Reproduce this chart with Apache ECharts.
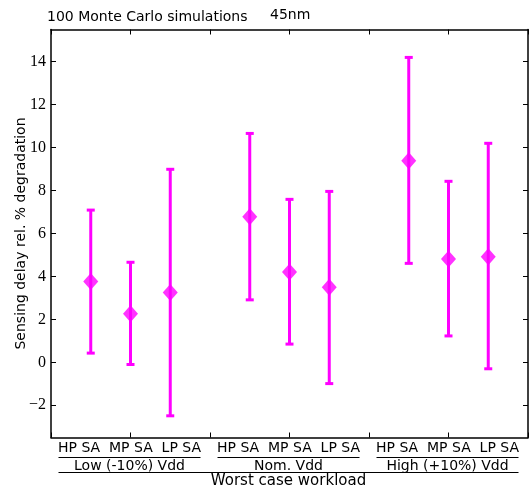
<!DOCTYPE html>
<html>
<head>
<meta charset="utf-8">
<script src="https://cdn.jsdelivr.net/npm/echarts@6/dist/echarts.min.js"></script>
<style>
html,body{margin:0;padding:0;background:#fff;}
#c{width:531px;height:487px;}
</style>
</head>
<body>
<div id="c"></div>
<script>
// ---- data ----
var saTypes = ['HP SA', 'MP SA', 'LP SA'];
var vddGroups = ['Low (-10%) Vdd', 'Nom. Vdd', 'High (+10%) Vdd'];
var xPositions = [1, 2, 3, 5, 6, 7, 9, 10, 11];
var meanValues = [3.76, 2.26, 3.25, 6.78, 4.21, 3.50, 9.39, 4.81, 4.92];
var upperValues = [7.09, 4.66, 8.99, 10.66, 7.59, 7.96, 14.20, 8.43, 10.20];
var lowerValues = [0.43, -0.10, -2.49, 2.91, 0.85, -0.99, 4.61, 1.23, -0.30];
var yTickValues = [-2, 0, 2, 4, 6, 8, 10, 12, 14];
var xTickValues = [0, 2, 4, 6, 8, 10, 12];
var titleLeft = '100 Monte Carlo simulations';
var titleRight = '45nm';
var yAxisName = 'Sensing delay rel. % degradation';
var xAxisName = 'Worst case workload';

var MAG = '#ff00ff';
var chart = echarts.init(document.getElementById('c'), null, {renderer: 'canvas'});

var errData = xPositions.map(function (x, i) { return [x, lowerValues[i], upperValues[i]]; });
var ptData = xPositions.map(function (x, i) { return [x, meanValues[i]]; });

function fmtY(v) { return v < 0 ? '\u2212' + Math.abs(v) : String(v); }

var axisLineStyle = {color: '#000', width: 1.5};
var tickStyle = {color: '#000', width: 1};

var option = {
  animation: false,
  backgroundColor: '#fff',
  grid: {left: 51, top: 29.5, width: 477, height: 408, containLabel: false, outerBoundsMode: 'none'},
  xAxis: [
    {type: 'value', position: 'bottom', min: 0, max: 12, interval: 2,
     axisLine: {show: true, onZero: false, lineStyle: axisLineStyle},
     axisTick: {show: true, inside: true, length: 5, lineStyle: tickStyle},
     axisLabel: {show: false}, splitLine: {show: false}},
    {type: 'value', position: 'top', min: 0, max: 12, interval: 2,
     axisLine: {show: true, onZero: false, lineStyle: axisLineStyle},
     axisTick: {show: true, inside: true, length: 5, lineStyle: tickStyle},
     axisLabel: {show: false}, splitLine: {show: false}}
  ],
  yAxis: [
    {type: 'value', position: 'left', min: -3.5, max: 15.5,
     axisLine: {show: true, onZero: false, lineStyle: axisLineStyle},
     axisTick: {show: true, inside: true, length: 5, lineStyle: tickStyle, customValues: yTickValues},
     axisLabel: {show: true, customValues: yTickValues, formatter: fmtY, margin: 5,
                 fontFamily: 'Liberation Serif', fontSize: 16, color: '#000'},
     splitLine: {show: false},
     name: yAxisName, nameLocation: 'middle', nameGap: 23, nameRotate: 90, nameMoveOverlap: false,
     nameTextStyle: {fontFamily: 'DejaVu Sans', fontSize: 14, color: '#000'}},
    {type: 'value', position: 'right', min: -3.5, max: 15.5,
     axisLine: {show: true, onZero: false, lineStyle: axisLineStyle},
     axisTick: {show: true, inside: true, length: 5, lineStyle: tickStyle, customValues: yTickValues},
     axisLabel: {show: false}, splitLine: {show: false}}
  ],
  series: [
    {type: 'custom', xAxisIndex: 0, yAxisIndex: 0, data: errData, z: 2,
     renderItem: function (params, api) {
       var x = api.value(0);
       var lo = api.coord([x, api.value(1)]);
       var hi = api.coord([x, api.value(2)]);
       var hw = 4;
       var st = {stroke: MAG, lineWidth: 3};
       return {type: 'group', children: [
         {type: 'line', shape: {x1: lo[0], y1: lo[1], x2: hi[0], y2: hi[1]}, style: st},
         {type: 'line', shape: {x1: lo[0] - hw, y1: lo[1], x2: lo[0] + hw, y2: lo[1]}, style: st},
         {type: 'line', shape: {x1: hi[0] - hw, y1: hi[1], x2: hi[0] + hw, y2: hi[1]}, style: st}
       ]};
     }},
    {type: 'scatter', xAxisIndex: 0, yAxisIndex: 0, data: ptData, z: 3,
     symbol: 'diamond', symbolSize: [15, 17], itemStyle: {color: MAG}}
  ]
};
chart.setOption(option);

// category annotations below the plot, positioned from the x axis scale
function px(x) { return chart.convertToPixel({xAxisIndex: 0}, x); }
var textStyleBase = {fontFamily: 'DejaVu Sans', fill: '#000'};
var g = [];
g.push({type: 'text', left: 47, top: 10, style: Object.assign({text: titleLeft, fontSize: 14}, textStyleBase)});
g.push({type: 'text', left: 270, top: 8, style: Object.assign({text: titleRight, fontSize: 14}, textStyleBase)});
var rowText = saTypes.join('  ');
for (var gi = 0; gi < vddGroups.length; gi++) {
  var cx = px(xPositions[gi * 3 + 1]) - 1;
  g.push({type: 'text', x: cx, y: 448, style: Object.assign({text: rowText, fontSize: 14, align: 'center', verticalAlign: 'middle'}, textStyleBase)});
  g.push({type: 'line', shape: {x1: cx - 71, y1: 457.5, x2: cx + 71, y2: 457.5}, style: {stroke: '#000', lineWidth: 1}});
  g.push({type: 'text', x: cx, y: 466, style: Object.assign({text: vddGroups[gi], fontSize: 14, align: 'center', verticalAlign: 'middle'}, textStyleBase)});
}
var leftX = px(xPositions[1]) - 1 - 71;
var rightX = px(xPositions[7]) - 1 + 71;
g.push({type: 'line', shape: {x1: leftX, y1: 472.5, x2: rightX, y2: 472.5}, style: {stroke: '#000', lineWidth: 1}});
g.push({type: 'text', x: (leftX + rightX) / 2, y: 481, style: Object.assign({text: xAxisName, fontSize: 15, align: 'center', verticalAlign: 'middle'}, textStyleBase)});
chart.setOption({graphic: g});
</script>
</body>
</html>
